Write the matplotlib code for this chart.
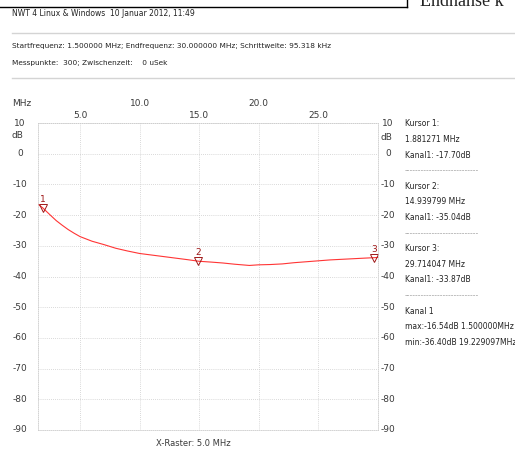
import numpy as np
import matplotlib
matplotlib.use("Agg")
from matplotlib import pyplot as plt
import matplotlib.transforms as mtransforms

matplotlib.rcParams['font.family'] = ['DejaVu Sans']

# Messkurve Kanal 1 (Frequenz in MHz, Pegel in dB)
freq = [1.5, 1.88, 2.5, 3.0, 3.5, 4.0, 4.5, 5.0, 6.0, 7.0, 8.0, 9.0, 10.0,
        11.0, 12.0, 13.0, 14.0, 15.0, 16.0, 17.0, 18.0, 19.23, 20.0, 21.0,
        22.0, 23.0, 24.0, 25.0, 26.0, 27.0, 28.0, 29.0, 29.71, 30.0]
pegel = [-16.54, -17.70, -20.0, -21.8, -23.3, -24.7, -25.9, -27.0, -28.5,
         -29.6, -30.8, -31.7, -32.5, -33.0, -33.5, -34.0, -34.5, -35.04,
         -35.3, -35.6, -36.0, -36.40, -36.2, -36.1, -35.9, -35.5, -35.2,
         -34.9, -34.6, -34.4, -34.2, -34.0, -33.87, -33.8]

# Kursoren
kursor_f = [1.881271, 14.939799, 29.714047]
kursor_db = [-17.70, -35.04, -33.87]
kursor_nr = ["1", "2", "3"]

x_ticks = [5.0, 10.0, 15.0, 20.0, 25.0]
y_ticks = list(range(-90, 11, 10))

header = "NWT 4 Linux & Windows  10 Januar 2012, 11:49"
info1 = "Startfrequenz: 1.500000 MHz; Endfrequenz: 30.000000 MHz; Schrittweite: 95.318 kHz"
info2 = "Messpunkte:  300; Zwischenzeit:    0 uSek"
seite = [
    "Kursor 1:", "1.881271 MHz", "Kanal1: -17.70dB", "---------------------------",
    "Kursor 2:", "14.939799 MHz", "Kanal1: -35.04dB", "---------------------------",
    "Kursor 3:", "29.714047 MHz", "Kanal1: -33.87dB", "---------------------------",
    "Kanal 1", "max:-16.54dB 1.500000MHz", "min:-36.40dB 19.229097MHz",
]

W, H = 515, 449
fig = plt.figure(figsize=(W / 100, H / 100), dpi=100)


def px(x, y):
    return x / W, 1 - y / H


X0, X1, Y0, Y1 = 38.4, 377.5, 123, 430
ax = fig.add_axes([X0 / W, 1 - Y1 / H, (X1 - X0) / W, (Y1 - Y0) / H])
ax.set_xlim(1.5, 30)
ax.set_ylim(-90, 10)

grid_c = '#cccccc'
ax.set_xticks(x_ticks)
ax.set_yticks(y_ticks)
ax.tick_params(length=0, labelleft=False, labelbottom=False)
ax.grid(True, color=grid_c, linestyle=(0, (1, 1.5)), linewidth=0.6)
for s in ax.spines.values():
    s.set_color(grid_c)
    s.set_linestyle((0, (1, 1.5)))
    s.set_linewidth(0.6)

ax.plot(freq, pegel, color='#ff3535', linewidth=0.8)

mark_c = '#a01818'
ax.plot(kursor_f, kursor_db, linestyle='none', marker='v', markersize=6,
        markerfacecolor='none', markeredgecolor=mark_c, markeredgewidth=0.7)
for f, d, n in zip(kursor_f, kursor_db, kursor_nr):
    ax.annotate(n, (f, d), xytext=(0, 3), textcoords='offset points',
                ha='center', va='bottom', fontsize=6.5, color=mark_c)

# Achsbeschriftungen links/rechts (zentriert)
def ax_x(p):
    return (p - X0) / (X1 - X0)

lab_c = '#3a3a3a'
ty = mtransforms.blended_transform_factory(ax.transAxes, ax.transData)
for v in y_ticks:
    ax.text(ax_x(20), v, str(v), transform=ty, ha='center', va='center',
            fontsize=6.5, color=lab_c, clip_on=False)
    ax.text(ax_x(388), v, str(v), transform=ty, ha='center', va='center',
            fontsize=6.5, color=lab_c, clip_on=False)
fig.text(*px(17, 136), "dB", ha='center', va='center', fontsize=6.5, color=lab_c)
fig.text(*px(386, 137), "dB", ha='center', va='center', fontsize=6.5, color=lab_c)

# Frequenzbeschriftung oben, abwechselnd versetzt
tx = mtransforms.blended_transform_factory(ax.transData, ax.transAxes)
for i, f in enumerate(x_ticks):
    yy = 115 if i % 2 == 0 else 103
    ax.text(f, 1 - (yy - Y0) / (Y1 - Y0), "%.1f" % f, transform=tx,
            ha='center', va='center', fontsize=6.5, color=lab_c, clip_on=False)
fig.text(*px(12, 103), "MHz", ha='left', va='center', fontsize=6.5, color=lab_c)
fig.text(*px(193, 444), "X-Raster: 5.0 MHz", ha='center', va='center',
         fontsize=6, color=lab_c)

# Kopfzeilen
fig.text(*px(12, 14), header, ha='left', va='center', fontsize=5.5, color='#222222')
fig.text(*px(12, 46), info1, ha='left', va='center', fontsize=5.3, color='#222222')
fig.text(*px(12, 63), info2, ha='left', va='center', fontsize=5.3, color='#222222')
for yy in (33, 78):
    fig.add_artist(plt.Line2D([12 / W, 1], [1 - yy / H] * 2, color='#d4d4d4',
                              linewidth=1.0))

# Seitenrand oben rechts
fig.add_artist(plt.Line2D([0, 407 / W], [1 - 7 / H] * 2, color='black', linewidth=1.0))
fig.add_artist(plt.Line2D([407 / W] * 2, [1, 1 - 7 / H], color='black', linewidth=1.0))
fig.text(*px(420, 6), "Endnahse k", ha='left', va='baseline', fontsize=13,
         family='Liberation Serif', color='#222222')

for i, t in enumerate(seite):
    c = '#aaaaaa' if t.startswith('-') else '#222222'
    fig.text(*px(405, 124 + i * 15.6), t, ha='left', va='center', fontsize=5.5, color=c)

fig.savefig('out.png', dpi=100)
